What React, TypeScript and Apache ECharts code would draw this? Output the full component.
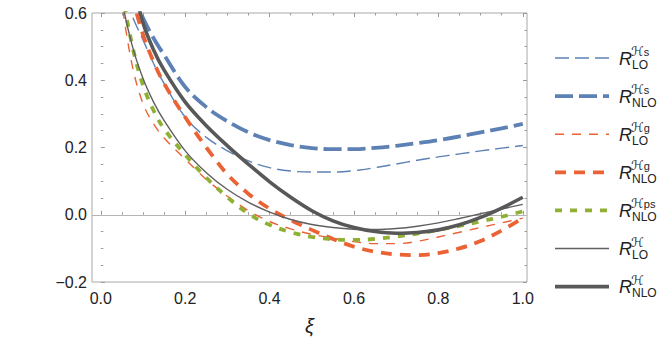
import React, { useEffect, useRef } from "react";
import * as echarts from "echarts";

// ξ sample points
const XS = [0.04, 0.05, 0.075, 0.1, 0.125, 0.15, 0.2, 0.25, 0.3, 0.35, 0.4, 0.45, 0.5, 0.55, 0.6, 0.65, 0.7, 0.75, 0.8, 0.85, 0.9, 0.95, 1.0];

const R_LO_HS = [null, 0.70, 0.59, 0.52, 0.45, 0.39, 0.29, 0.23, 0.19, 0.16, 0.14, 0.13, 0.127, 0.127, 0.131, 0.14, 0.151, 0.162, 0.172, 0.181, 0.19, 0.198, 0.206];
const R_NLO_HS = [null, null, 0.66, 0.585, 0.525, 0.475, 0.38, 0.32, 0.278, 0.245, 0.222, 0.207, 0.198, 0.195, 0.195, 0.199, 0.205, 0.213, 0.222, 0.233, 0.245, 0.257, 0.27];
const R_LO_HG = [0.76, 0.63, 0.44, 0.33, 0.27, 0.228, 0.165, 0.105, 0.055, 0.012, -0.02, -0.042, -0.058, -0.07, -0.08, -0.086, -0.086, -0.079, -0.066, -0.052, -0.038, -0.024, -0.01];
const R_NLO_HG = [null, 0.82, 0.65, 0.535, 0.455, 0.39, 0.29, 0.2, 0.12, 0.062, 0.018, -0.016, -0.045, -0.072, -0.095, -0.11, -0.118, -0.12, -0.114, -0.1, -0.078, -0.047, -0.01];
const R_NLO_HPS = [0.8, 0.67, 0.5, 0.385, 0.31, 0.255, 0.178, 0.11, 0.052, 0.003, -0.03, -0.052, -0.066, -0.073, -0.075, -0.072, -0.065, -0.056, -0.045, -0.033, -0.02, -0.006, 0.01];
const R_LO_H = [0.76, 0.64, 0.5, 0.405, 0.335, 0.28, 0.19, 0.125, 0.075, 0.037, 0.008, -0.014, -0.029, -0.038, -0.043, -0.044, -0.041, -0.034, -0.024, -0.011, 0.003, 0.017, 0.031];
const R_NLO_H = [null, null, 0.7, 0.57, 0.49, 0.43, 0.335, 0.265, 0.205, 0.15, 0.098, 0.052, 0.012, -0.018, -0.038, -0.05, -0.055, -0.053, -0.045, -0.03, -0.008, 0.02, 0.052];

const LEGEND_SUP = ["s", "s", "g", "g", "ps", "", ""];
const LEGEND_SUB = ["LO", "NLO", "LO", "NLO", "NLO", "LO", "NLO"];

const X_TICKS_MIN = 0;
const X_TICKS_MAX = 1;
const Y_MIN = -0.2;
const Y_MAX = 0.6;

const BLUE = "#5E81B5";
const ORANGE = "#EB6235";
const GREEN = "#8FB032";

const STYLES = [
  { color: BLUE, width: 1.4, dash: [14, 6] },
  { color: BLUE, width: 3.8, dash: [18, 6] },
  { color: ORANGE, width: 1.4, dash: [9, 8] },
  { color: ORANGE, width: 3.8, dash: [11, 8] },
  { color: GREEN, width: 3.8, dash: [7, 8] },
  { color: "#606060", width: 1.4, dash: null },
  { color: "#585858", width: 3.6, dash: null },
];

const FONT = '"Liberation Sans", Arial, "DejaVu Sans", sans-serif';

function pairs(ys: (number | null)[]) {
  const out: number[][] = [];
  ys.forEach((y, i) => {
    if (y !== null) out.push([XS[i], y]);
  });
  return out;
}

export default function App() {
  const ref = useRef<HTMLDivElement>(null);
  useEffect(() => {
    if (!ref.current) return;
    const chart = echarts.init(ref.current, null, { renderer: "svg" });
    const allSeries = [R_LO_HS, R_NLO_HS, R_LO_HG, R_NLO_HG, R_NLO_HPS, R_LO_H, R_NLO_H];
    const fmt = (v: number) => (v < 0 ? "\u2212" + Math.abs(v).toFixed(1) : v.toFixed(1));
    const tickStyle = { color: "#9a9a9a", width: 1 };
    const lineSeries: any[] = allSeries.map((ys, i) => ({
      type: "line",
      xAxisIndex: 0,
      yAxisIndex: 0,
      data: pairs(ys),
      showSymbol: false,
      symbol: "none",
      smooth: 0.35,
      clip: true,
      z: 3 + i,
      lineStyle: {
        color: STYLES[i].color,
        width: STYLES[i].width,
        type: STYLES[i].dash ? STYLES[i].dash : "solid",
        cap: "butt",
      },
    }));
    lineSeries.unshift({
      type: "line",
      xAxisIndex: 0,
      yAxisIndex: 0,
      data: [],
      z: 1,
      markLine: {
        silent: true,
        symbol: "none",
        label: { show: false },
        lineStyle: { color: "#b4b4b4", width: 1, type: "solid" },
        data: [{ yAxis: 0 }],
      },
    });

    const graphic: any[] = [];
    const y0 = 58;
    const step = 38.1;
    for (let i = 0; i < 7; i++) {
      const y = y0 + i * step;
      const s = STYLES[i];
      graphic.push({
        type: "line",
        shape: { x1: 555, y1: y, x2: 609, y2: y },
        style: { stroke: s.color, lineWidth: s.width, lineDash: s.dash || null },
      });
      graphic.push({
        type: "text",
        x: 619,
        y: y + 0.5,
        style: { text: "R", fontFamily: FONT, fontStyle: "italic", fontSize: 18, fill: "#222", verticalAlign: "middle" },
      });
      graphic.push({
        type: "text",
        x: 631,
        y: y - 6.5,
        style: {
          text: "{h|\u210B}{t|" + LEGEND_SUP[i] + "}",
          verticalAlign: "middle",
          rich: {
            h: { fontFamily: '"DejaVu Sans", sans-serif', fontStyle: "italic", fontSize: 13, fill: "#222" },
            t: { fontFamily: FONT, fontSize: 11, fill: "#222" },
          },
        },
      });
      graphic.push({
        type: "text",
        x: 632,
        y: y + 6.5,
        style: { text: LEGEND_SUB[i], fontFamily: FONT, fontSize: 12, fill: "#222", verticalAlign: "middle" },
      });
    }

    chart.setOption({
      animation: false,
      backgroundColor: "#fff",
      grid: [
        { left: 92, right: 137, top: 13, bottom: 61, show: true, borderColor: "#a8a8a8", borderWidth: 1, backgroundColor: "transparent" },
        { left: 100.8, right: 141.2, top: 13, bottom: 61 },
      ],
      xAxis: [
        {
          type: "value",
          gridIndex: 0,
          min: -0.021,
          max: 1.01,
          axisLine: { show: false },
          axisTick: { show: false },
          axisLabel: { show: false },
          splitLine: { show: false },
          name: "\u03BE",
          nameLocation: "middle",
          nameGap: 34,
          nameTextStyle: { fontFamily: FONT, fontStyle: "italic", fontSize: 20, color: "#222" },
        },
        {
          type: "value",
          gridIndex: 1,
          position: "bottom",
          min: X_TICKS_MIN,
          max: X_TICKS_MAX,
          interval: 0.2,
          axisLine: { show: false },
          axisTick: { show: true, inside: true, length: 4, lineStyle: tickStyle },
          minorTick: { show: true, splitNumber: 4, length: 2.5, lineStyle: tickStyle },
          axisLabel: { fontFamily: FONT, fontSize: 16, color: "#222", margin: 8, formatter: fmt },
          splitLine: { show: false },
        },
        {
          type: "value",
          gridIndex: 1,
          position: "top",
          min: X_TICKS_MIN,
          max: X_TICKS_MAX,
          interval: 0.2,
          axisLine: { show: false },
          axisTick: { show: true, inside: true, length: 4, lineStyle: tickStyle },
          minorTick: { show: true, splitNumber: 4, length: 2.5, lineStyle: tickStyle },
          axisLabel: { show: false },
          splitLine: { show: false },
        },
      ],
      yAxis: [
        {
          type: "value",
          gridIndex: 0,
          position: "left",
          min: Y_MIN,
          max: Y_MAX,
          interval: 0.2,
          axisLine: { show: false },
          axisTick: { show: true, inside: true, length: 4, lineStyle: tickStyle },
          minorTick: { show: true, splitNumber: 4, length: 2.5, lineStyle: tickStyle },
          axisLabel: { fontFamily: FONT, fontSize: 16, color: "#222", margin: 5, formatter: fmt },
          splitLine: { show: false },
        },
        {
          type: "value",
          gridIndex: 0,
          position: "right",
          min: Y_MIN,
          max: Y_MAX,
          interval: 0.2,
          axisLine: { show: false },
          axisTick: { show: true, inside: true, length: 4, lineStyle: tickStyle },
          minorTick: { show: true, splitNumber: 4, length: 2.5, lineStyle: tickStyle },
          axisLabel: { show: false },
          splitLine: { show: false },
        },
        {
          type: "value",
          gridIndex: 1,
          min: Y_MIN,
          max: Y_MAX,
          show: false,
        },
      ],
      series: lineSeries,
      graphic,
    });
    return () => chart.dispose();
  }, []);
  return <div ref={ref} style={{ width: 664, height: 343, position: "absolute", left: 0, top: 0 }} />;
}
